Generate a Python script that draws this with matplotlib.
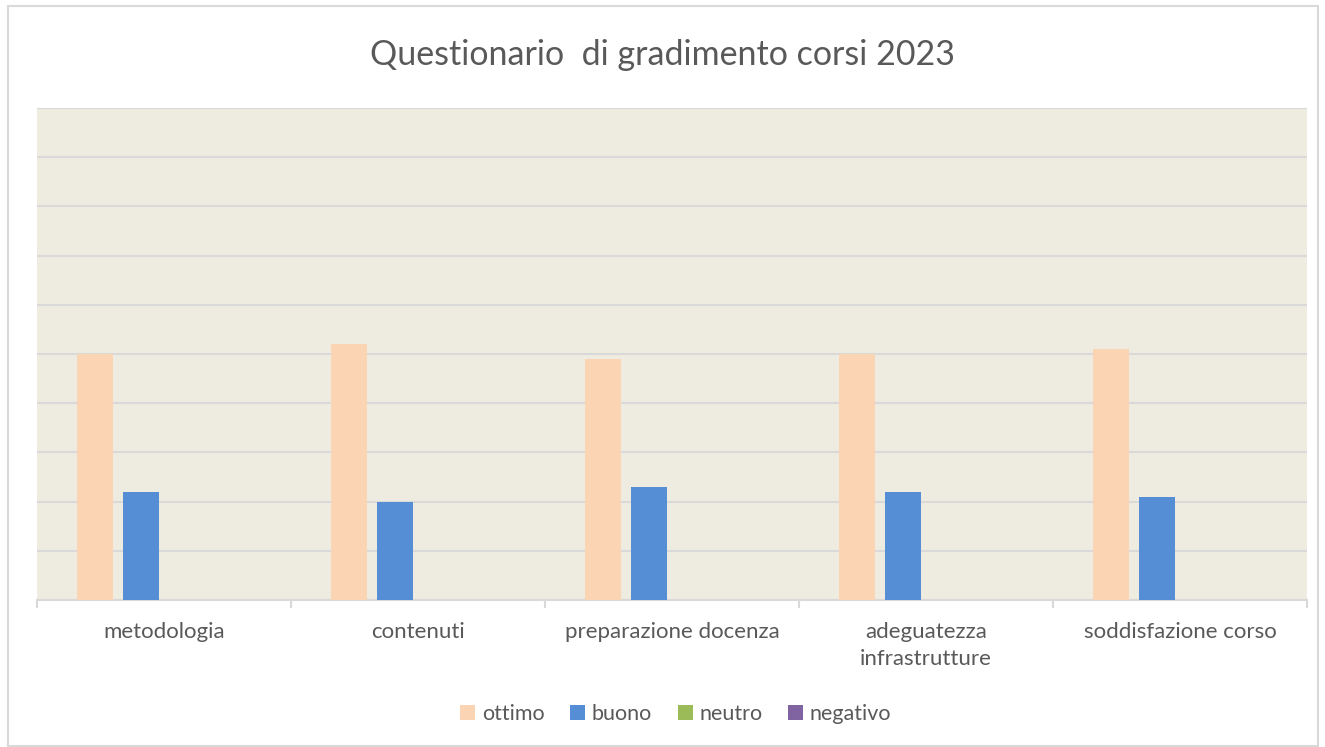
import numpy as np
import matplotlib.pyplot as plt
from matplotlib.patches import Rectangle

categories = ['metodologia', 'contenuti', 'preparazione docenza',
              'adeguatezza\ninfrastrutture', 'soddisfazione corso']
series_names = ['ottimo', 'buono', 'neutro', 'negativo']
ottimo = [50, 52, 49, 50, 51]
buono = [22, 20, 23, 22, 21]
neutro = [0, 0, 0, 0, 0]
negativo = [0, 0, 0, 0, 0]
colors = ['#FBD4B4', '#558ED5', '#9BBB59', '#8064A2']

plt.rcParams['font.family'] = ['Lato', 'DejaVu Sans']
text_color = '#595959'

fig = plt.figure(figsize=(13.25, 7.47), dpi=100)
ax = fig.add_axes([37 / 1325, 1 - 600 / 747, 1270 / 1325, 492 / 747])
ax.set_facecolor('#EEEBE0')

x = np.arange(len(categories))
width = 36 / 254
step = 46 / 254
for i, (name, vals) in enumerate(zip(series_names, [ottimo, buono, neutro, negativo])):
    ax.bar(x + (i - 1.5) * step, vals, width, color=colors[i], label=name, zorder=3)

ax.set_xlim(-0.5, len(categories) - 0.5)
ax.set_ylim(0, 100)
ax.set_yticks(np.arange(0, 101, 10))
ax.yaxis.grid(True, color='#D9D9D9', linewidth=1.5, zorder=0)
ax.tick_params(axis='y', left=False, labelleft=False)

ax.set_xticks(x)
ax.set_xticklabels(categories, fontsize=16, color=text_color, linespacing=1.4)
ax.tick_params(axis='x', length=0, pad=16)
ax.set_xticks(np.arange(-0.5, len(categories)), minor=True)
ax.tick_params(axis='x', which='minor', length=6, color='#D9D9D9', width=1.5)

for s in ['top', 'right', 'left']:
    ax.spines[s].set_visible(False)
ax.spines['bottom'].set_color('#D9D9D9')
ax.spines['bottom'].set_linewidth(1.5)

fig.text(0.5, 1 - 55 / 747, 'Questionario  di gradimento corsi 2023', ha='center', va='center',
         fontsize=24.5, color=text_color)

handles, labels = ax.get_legend_handles_labels()
fig.legend(handles, labels, loc='center', bbox_to_anchor=(0.51, 1 - 714 / 747), ncol=4,
           frameon=False, fontsize=15.5, labelcolor=text_color, handlelength=0.7,
           handleheight=0.7, handletextpad=0.3, columnspacing=1.2)

fig.patches.append(Rectangle((8 / 1325, 0.002), 1310 / 1325, 0.99, transform=fig.transFigure,
                             fill=False, edgecolor='#D9D9D9', linewidth=1.5))

fig.savefig('out.png', dpi=100, facecolor='white')
